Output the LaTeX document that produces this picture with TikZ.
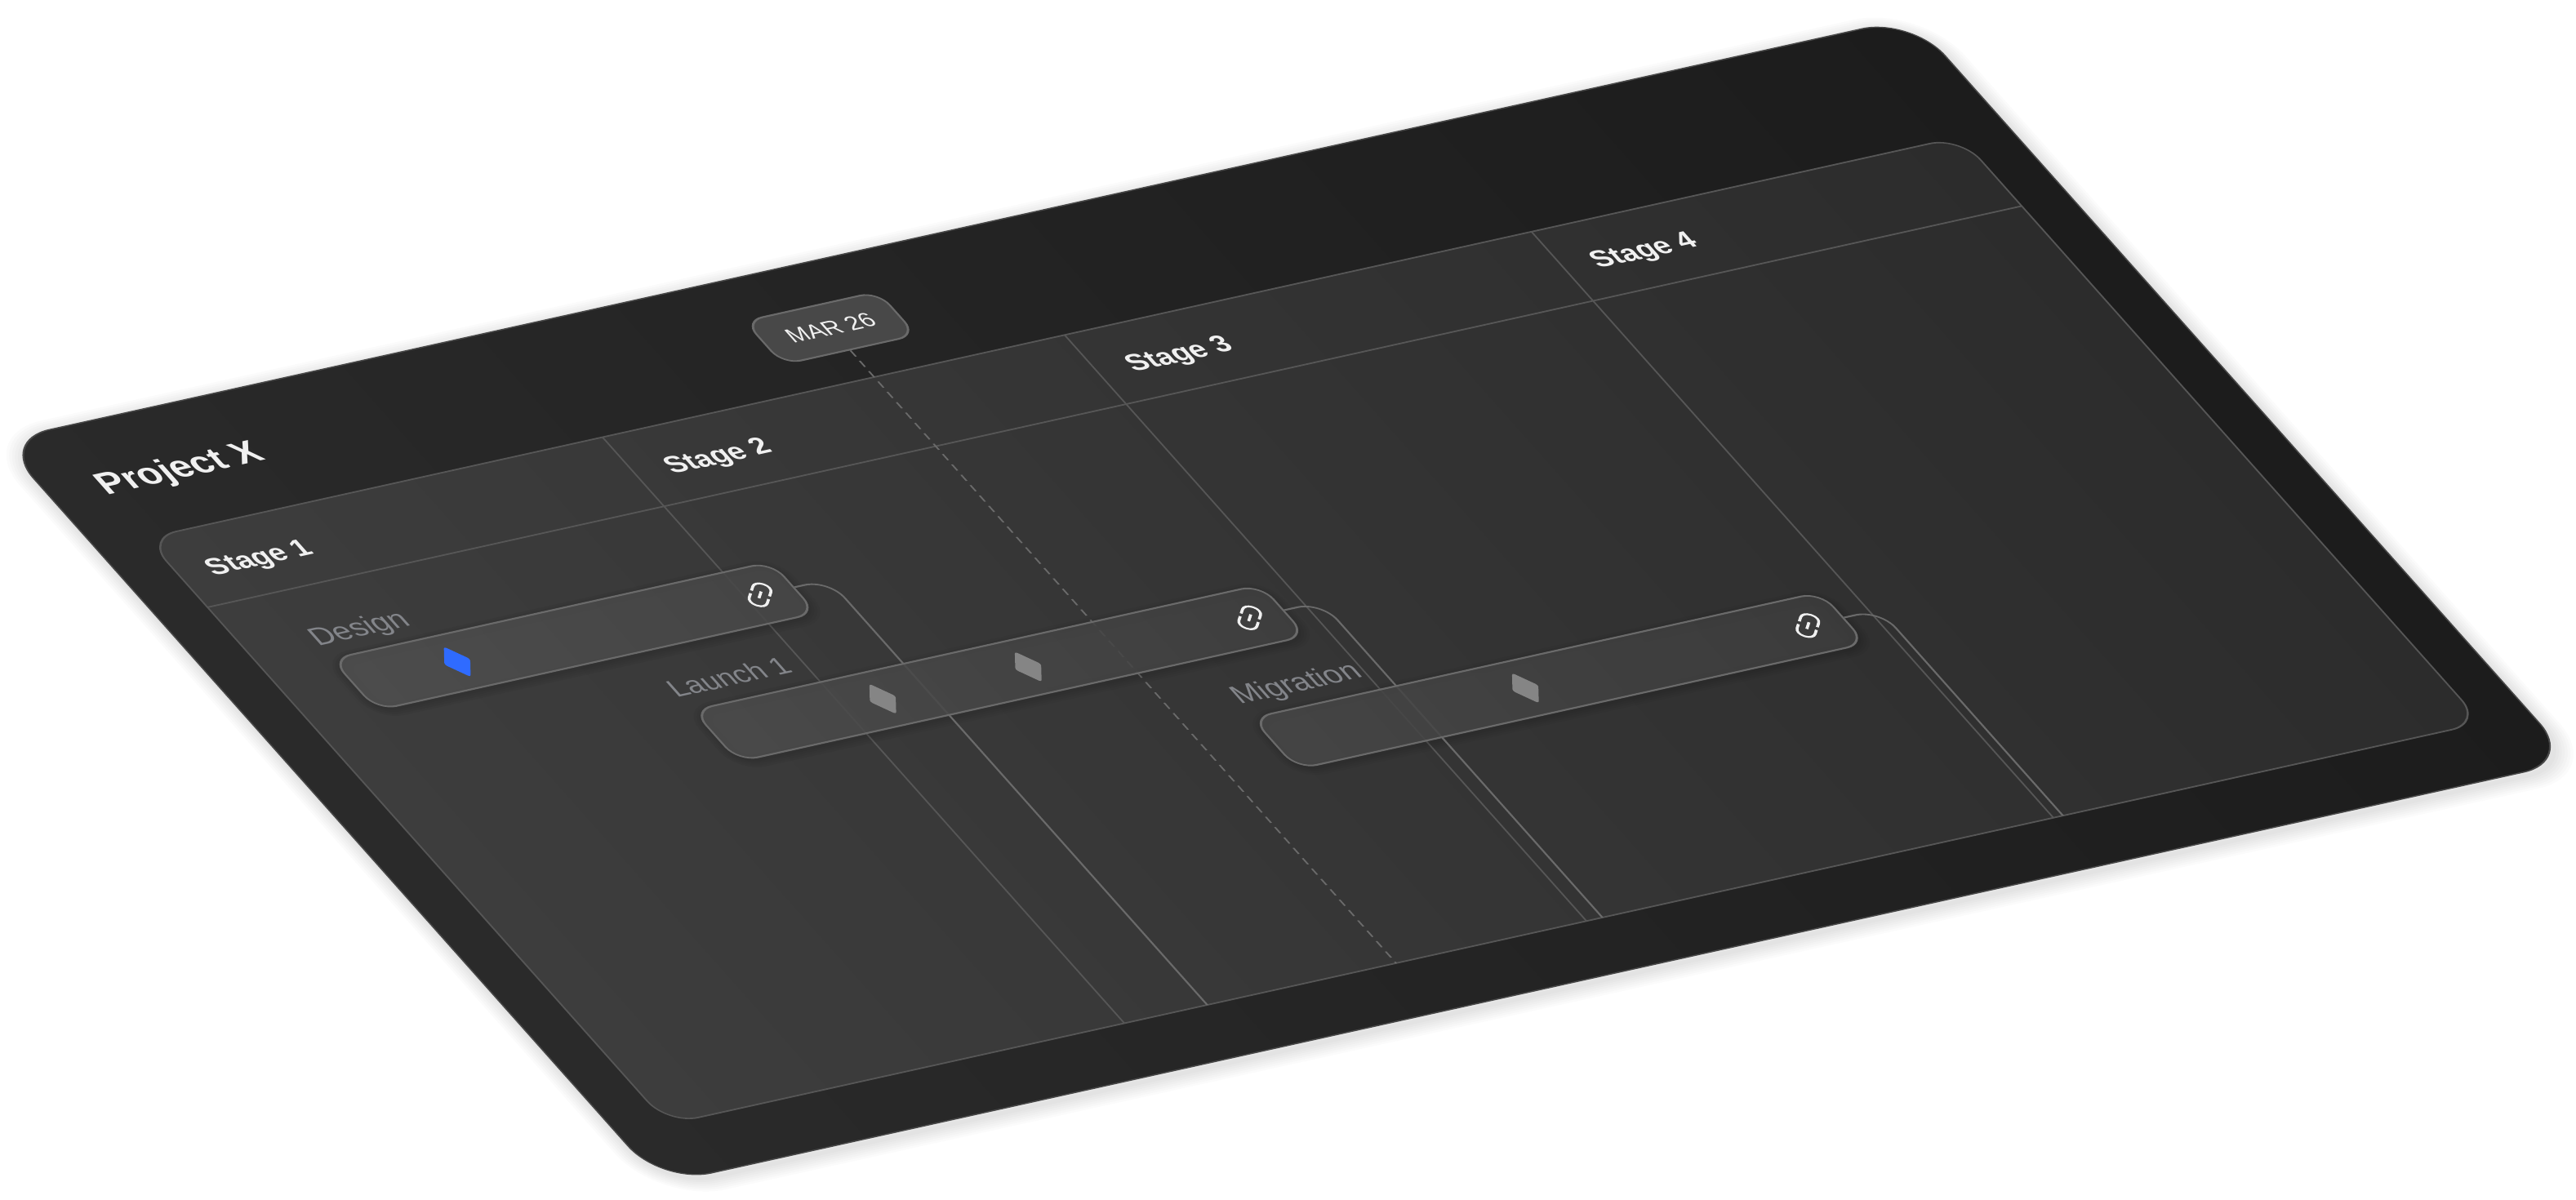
\documentclass[tikz,border=0pt]{standalone}
\usepackage{fontspec}
\setmainfont{Liberation Sans}
\usetikzlibrary{shapes.geometric}
\definecolor{slabL}{HTML}{2A2A2A}
\definecolor{slabR}{HTML}{1C1C1C}
\definecolor{boardL}{HTML}{3D3D3D}
\definecolor{boardR}{HTML}{2C2C2C}
\definecolor{gridline}{HTML}{565656}
\definecolor{linkline}{HTML}{6A6A6A}
\definecolor{tasktext}{HTML}{83858A}
\definecolor{headtext}{HTML}{F0F0F0}
\definecolor{pillfill}{HTML}{484848}
\definecolor{markblue}{HTML}{2F6BFF}
\definecolor{markgrey}{HTML}{858585}
\tikzset{
  gridrule/.style={draw=gridline,line width=0.6pt},
  linkrule/.style={draw=linkline,line width=0.7pt,rounded corners=0.3cm},
  taskbar/.style={draw=linkline,line width=0.7pt,rounded corners=0.24cm,minimum height=0.84cm,inner sep=0pt,fill opacity=0.86},
  milestone/.style={shape=diamond,minimum width=0.33cm,minimum height=0.5cm,inner sep=0pt,rounded corners=0.03cm},
  iconrule/.style={draw=headtext,line width=0.85pt,rounded corners=0.09cm},
  stagehead/.style={anchor=base west,inner sep=0pt,text=headtext,font=\fontsize{10.1}{12}\selectfont\bfseries},
  tasklabel/.style={anchor=base west,inner sep=0pt,text=tasktext,font=\fontsize{10.7}{12}\selectfont},
}
\begin{document}
\begin{tikzpicture}
  \useasboundingbox (0,0) rectangle (31.55,-14.69);
  \begin{scope}[transform canvas={cm={0.9764,0.2160,-0.6648,0.7467,(-0.01cm,-5.40cm)}},x=0.01cm,y=-0.01cm]
    % soft shadow
    \foreach \w in {6,12,...,42}
      \draw[black,opacity=0.016,line width=\w*0.01cm,rounded corners=0.62cm] (1,6) rectangle (2400,1226);
    % slab and board
    \draw[left color=slabL,right color=slabR,draw=black!72,line width=0.5pt,rounded corners=0.62cm] (1,0) rectangle (2400,1220);
    \draw[left color=boardL,right color=boardR,draw=gridline,line width=0.6pt,rounded corners=0.38cm] (63,178) rectangle (2340,1140);
    \draw[gridrule] (63,291.5) -- (2340,291.5);
    \draw[gridrule] (636,178) -- (636,1140);
    \draw[gridrule] (1216,178) -- (1216,1140);
    \draw[gridrule] (1802,178) -- (1802,1140);
    \node[anchor=base west,inner sep=0pt,text=headtext,font=\fontsize{13.1}{14}\selectfont\bfseries] (projectname) at (62,107) {Project X};
    \node[stagehead] (stageone) at (99,250) {Stage 1};
    \node[stagehead] (stagetwo) at (675,250) {Stage 2};
    \node[stagehead] (stagethree) at (1254,250) {Stage 3};
    \node[stagehead] (stagefour) at (1838,249) {Stage 4};
    % date marker
    \node[draw=linkline,fill=pillfill,line width=0.7pt,rounded corners=0.22cm,minimum width=1.67cm,minimum height=0.71cm,inner sep=0pt,text=headtext,font=\fontsize{8.4}{10}\selectfont] (datepill) at (977,97.5) {MAR 26};
    \coordinate (dateend) at (977,1140);
    \draw[draw=linkline,line width=0.6pt,dash pattern=on 0.1cm off 0.07cm] (datepill.south) -- (dateend);
    % bar shadows
    \foreach \w in {4,10,16,22}{
      \draw[black,opacity=0.035,line width=\w*0.01cm,rounded corners=0.24cm] (145,404) rectangle (696,488);
      \draw[black,opacity=0.035,line width=\w*0.01cm,rounded corners=0.24cm] (476,584) rectangle (1188,668);
      \draw[black,opacity=0.035,line width=\w*0.01cm,rounded corners=0.24cm] (1055,764) rectangle (1768,848);
    }
    % task bars and links
    \coordinate (designend) at (740,1140);
    \coordinate (launchend) at (1236,1140);
    \coordinate (migrationend) at (1814,1140);
    \node[taskbar,left color=black!69,right color=black!72,minimum width=5.51cm] (designbar) at (420.5,442) {};
    \draw[linkrule] (designbar.east) -| (designend);
    \node[taskbar,left color=black!70,right color=black!75,minimum width=7.12cm] (launchbar) at (832,622) {};
    \draw[linkrule] (launchbar.east) -| (launchend);
    \node[taskbar,left color=black!72,right color=black!76,minimum width=7.13cm] (migrationbar) at (1411.5,802) {};
    \draw[linkrule] (migrationbar.east) -| (migrationend);
    \node[tasklabel] (designlabel) at (143,378) {Design};
    \node[tasklabel,font=\fontsize{10.2}{12}\selectfont] (launchlabel) at (470,558) {Launch 1};
    \node[tasklabel] (migrationlabel) at (1055,738) {Migration};
    % milestones
    \node[milestone,fill=markblue] (markdesign) at (274,442) {};
    \node[milestone,fill=markgrey] (marklaunchA) at (685.5,622) {};
    \node[milestone,fill=markgrey] (marklaunchB) at (868,622) {};
    \node[milestone,fill=markgrey] (markmigration) at (1369.5,802) {};
    % link icons
    \foreach \u/\v in {654/442,1146/622,1724/802}{
      \begin{scope}[shift={(\u,\v)},rotate=45]
        \draw[iconrule] (2.5,-9.5) -- (19,-9.5) -- (19,9.5) -- (2.5,9.5);
        \draw[iconrule] (-2.5,-9.5) -- (-19,-9.5) -- (-19,9.5) -- (-2.5,9.5);
        \draw[iconrule] (-6,0) -- (6,0);
      \end{scope}
    }
  \end{scope}
\end{tikzpicture}
\end{document}
